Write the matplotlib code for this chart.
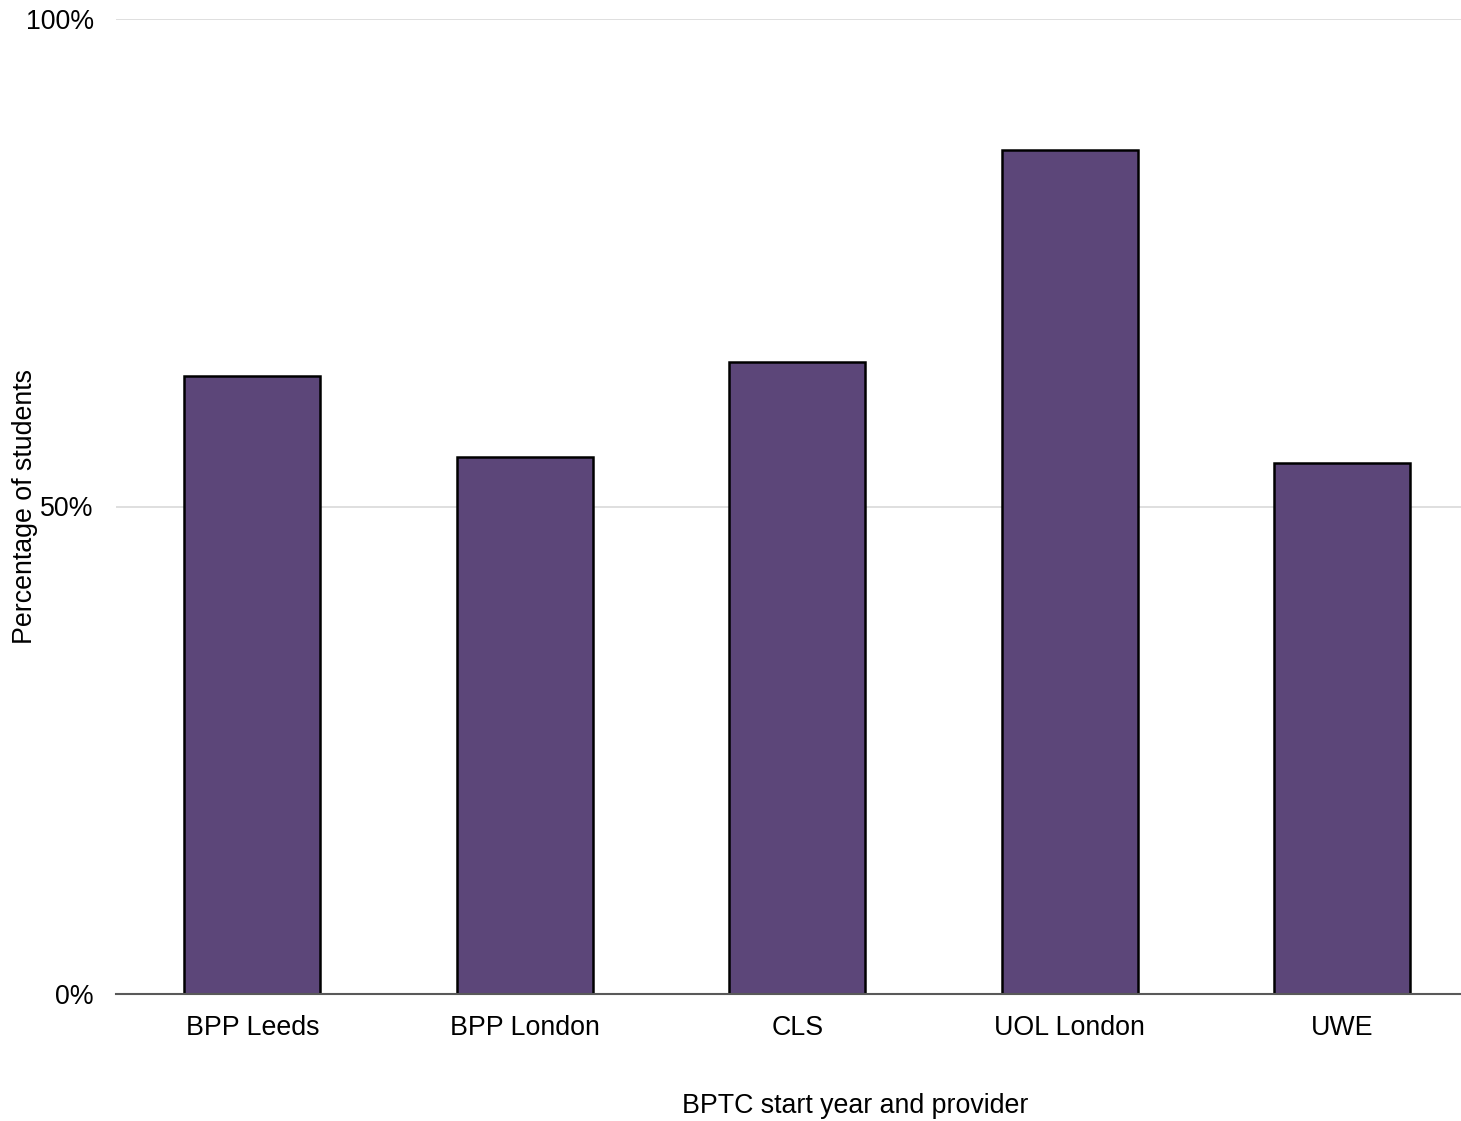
import matplotlib
matplotlib.use("Agg")
import matplotlib.pyplot as plt
from matplotlib.ticker import FuncFormatter

categories = ["BPP Leeds", "BPP London", "CLS", "UOL London", "UWE"]
values = [63.4, 55.1, 64.8, 86.6, 54.5]
yticks = [0, 50, 100]

plt.rcParams['font.family'] = ['Liberation Sans', 'DejaVu Sans']

W, H = 1461, 1121
fig = plt.figure(figsize=(W/100, H/100), dpi=100)
left, right = 116, 1461
top, bottom = 19, 994
ax = fig.add_axes([left/W, 1 - bottom/H, (right-left)/W, (bottom-top)/H])

x = list(range(len(categories)))
ax.bar(x, values, width=0.5, color="#5C4679", edgecolor="black", linewidth=1.8, zorder=3)

span = (right - left) / 272.5
ax.set_xlim(-0.5, -0.5 + span)
ax.set_ylim(0, 100)
ax.set_yticks(yticks)
ax.yaxis.set_major_formatter(FuncFormatter(lambda v, p: f"{int(v)}%"))
ax.set_xticks(x)
ax.set_xticklabels(categories)
ax.grid(axis='y', color="#D9D9D9", linewidth=1.2, zorder=0)
ax.set_axisbelow(True)
for s in ['top', 'right', 'left']:
    ax.spines[s].set_visible(False)
ax.spines['bottom'].set_color("#595959")
ax.spines['bottom'].set_linewidth(1.5)
ax.spines['bottom'].set_zorder(4)
ax.tick_params(axis='both', length=0, labelsize=19.3, colors="black")
ax.tick_params(axis='y', pad=16)
ax.tick_params(axis='x', pad=15)

fig.text(855/W, 1 - 1106/H, "BPTC start year and provider", ha='center', va='center', fontsize=19.3)
fig.text(25/W, 1 - 507/H, "Percentage of students", ha='center', va='center', rotation=90, fontsize=19.3)

fig.savefig("out.png", dpi=100)
